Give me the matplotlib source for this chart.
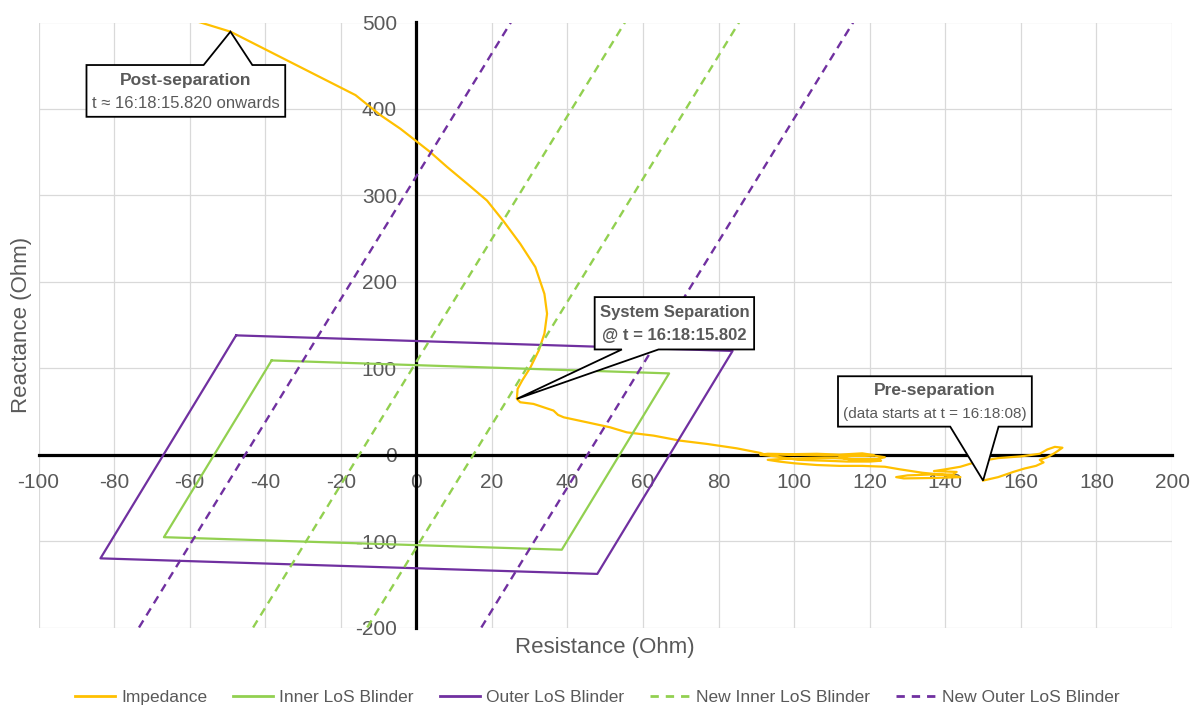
import matplotlib
matplotlib.use('Agg')
import matplotlib.pyplot as plt
from matplotlib.patches import Polygon
from matplotlib.lines import Line2D

plt.rcParams['font.family'] = ['Liberation Sans', 'DejaVu Sans']
plt.rcParams['axes.unicode_minus'] = False

GREY = '#595959'
ORANGE = '#FFC000'
GREEN = '#92D050'
PURPLE = '#7030A0'

# Impedance trajectory (R, X in ohm), in time order from the start of the record
imp_r = [150, 154, 158, 161, 164, 166, 165, 167, 169, 171, 169, 167, 165, 160, 154,
         150, 147, 144, 140, 137, 143, 142, 136, 130, 127, 129, 137, 144, 141, 134,
         128, 124, 118, 112, 106, 100, 96, 93, 97, 104, 110, 116, 122, 124, 121,
         116, 112, 115, 119, 123, 120, 114, 108, 101, 95, 91, 93, 99, 106, 112, 118,
         121, 116, 108, 99, 92, 91,
         84.8, 76.9, 69.8, 62.8, 55.7, 51.3, 45.2, 39.0, 37.5, 36.3, 31.0, 27.5, 26.6,
         26.8, 28.0, 30.2, 32.4, 33.9, 34.6, 33.9, 31.5, 27.5, 23.1, 18.7, 13.4, 8.1,
         3.7, 0.2, -4.2, -9.5, -16.1, -49.2, -57.1, -62.0]
imp_x = [-30, -26, -20, -16, -13, -9, -6, -3, 2, 8, 9, 6, 1, -2, -4,
         -7, -10, -14, -17, -19, -20, -23, -23, -24, -26, -27.5, -27, -26, -24, -21,
         -17, -14, -13, -13, -12, -10, -8, -6, -5, -4, -4, -5, -5, -3, -1,
         -1, -3, -6, -7, -7, -8, -8, -7, -6, -2, 0, 1, 0.5, 1, 0, 1.5,
         -0.5, -1, -1, 0, 0.5, 2,
         7.3, 12.4, 16.2, 22.0, 25.8, 31.6, 37.4, 43.2, 46.0, 51.0, 58.7, 60.6, 64.5,
         76.0, 85.7, 101.0, 120.5, 140.0, 163.0, 186.0, 217.0, 244.0, 270.0, 294.0, 313.7, 333.0,
         350.0, 362.0, 377.0, 392.8, 416.0, 489.4, 500.0, 506.0]

# Existing load-shedding blinders (closed quadrilaterals)
inner_r = [-38.3, 66.9, 38.5, -66.8, -38.3]
inner_x = [109.0, 94.0, -110.0, -95.5, 109.0]
outer_r = [-47.7, 83.7, 47.9, -83.6, -47.7]
outer_x = [138.0, 120.0, -138.0, -120.0, 138.0]

# New blinder lines: R at X = -200 and X = 500
new_x = [-200, 500]
new_inner_left = [-43.2, 55.2]
new_inner_right = [-13.0, 85.4]
new_outer_left = [-73.4, 25.0]
new_outer_right = [17.2, 115.6]


def callout(ax, box, base, tip, top=True):
    r0, r1, x0, x1 = box
    edge = x1 if top else x0
    other = x0 if top else x1
    verts = [(r0, other), (r1, other), (r1, edge), (base[1], edge), tip,
             (base[0], edge), (r0, edge)]
    ax.add_patch(Polygon(verts, closed=True, facecolor='white', edgecolor='black',
                         lw=1.3, zorder=6))


fig = plt.figure(figsize=(11.95, 7.06), dpi=100)
ax = fig.add_axes([38.5 / 1195, 1 - 627.5 / 706, (1172 - 38.5) / 1195, (627.5 - 22.5) / 706])

ax.plot(imp_r, imp_x, color=ORANGE, lw=1.6, zorder=3)
ax.plot(inner_r, inner_x, color=GREEN, lw=1.6, zorder=4)
ax.plot(outer_r, outer_x, color=PURPLE, lw=1.6, zorder=4)
for line in (new_inner_left, new_inner_right):
    ax.plot(line, new_x, color=GREEN, lw=1.7, dashes=(3.5, 2.5), zorder=4)
for line in (new_outer_left, new_outer_right):
    ax.plot(line, new_x, color=PURPLE, lw=1.7, dashes=(3.5, 2.5), zorder=4)

ax.set_xlim(-100, 200)
ax.set_ylim(-200, 500)
ax.set_xticks(range(-100, 201, 20))
ax.set_yticks(range(-200, 501, 100))
ax.grid(True, color='#d9d9d9', lw=0.9, zorder=0)
for gl in ax.get_xgridlines() + ax.get_ygridlines():
    gl.set_clip_on(False)
ax.set_axisbelow(True)

for side in ('top', 'right'):
    ax.spines[side].set_visible(False)
for side in ('left', 'bottom'):
    ax.spines[side].set_position(('data', 0))
    ax.spines[side].set_linewidth(2.3)
    ax.spines[side].set_zorder(2)
ax.tick_params(length=0, labelsize=15, labelcolor=GREY)
ax.tick_params(axis='x', pad=13)
ax.tick_params(axis='y', pad=14)

# Annotation callouts
callout(ax, (-87.3, -34.7, 390.9, 450.8), (-56.3, -43.4), (-49.2, 489.4), top=True)
ax.text(-61, 432.5, 'Post-separation', ha='center', va='center', fontsize=12.5,
        fontweight='bold', color=GREY, zorder=7)
ax.text(-61, 406, 't ≈ 16:18:15.820 onwards', ha='center', va='center', fontsize=12,
        color=GREY, zorder=7)

callout(ax, (47.2, 89.4, 121.7, 182.3), (54.4, 64.1), (26.6, 64.5), top=False)
ax.text(68.3, 164.5, 'System Separation', ha='center', va='center', fontsize=12,
        fontweight='bold', color=GREY, zorder=7)
ax.text(68.3, 137.5, '@ t = 16:18:15.802', ha='center', va='center', fontsize=12,
        fontweight='bold', color=GREY, zorder=7)

callout(ax, (111.6, 162.9, 32.4, 90.7), (141.3, 154.1), (150, -30), top=False)
ax.text(137.3, 74, 'Pre-separation', ha='center', va='center', fontsize=12.5,
        fontweight='bold', color=GREY, zorder=7)
ax.text(137.3, 47.4, '(data starts at t = 16:18:08)', ha='center', va='center',
        fontsize=11, color=GREY, zorder=7)

fig.text(605 / 1195, 1 - 648 / 706, 'Resistance (Ohm)', ha='center', va='center',
         fontsize=16, color=GREY)
fig.text(22 / 1195, 1 - 325 / 706, 'Reactance (Ohm)', ha='center', va='center',
         rotation=90, fontsize=16, color=GREY)

handles = [
    Line2D([], [], color=ORANGE, lw=2),
    Line2D([], [], color=GREEN, lw=2),
    Line2D([], [], color=PURPLE, lw=2),
    Line2D([], [], color=GREEN, lw=2, dashes=(3, 2.5)),
    Line2D([], [], color=PURPLE, lw=2, dashes=(3, 2.5)),
]
labels = ['Impedance', 'Inner LoS Blinder', 'Outer LoS Blinder',
          'New Inner LoS Blinder', 'New Outer LoS Blinder']
leg = fig.legend(handles, labels, loc='center', bbox_to_anchor=(0.5, 1 - 697 / 706),
                 ncol=5, frameon=False, fontsize=12.5, handlelength=2.3,
                 columnspacing=1.5, handletextpad=0.35)
for t in leg.get_texts():
    t.set_color(GREY)

fig.savefig('out.png', dpi=100)
